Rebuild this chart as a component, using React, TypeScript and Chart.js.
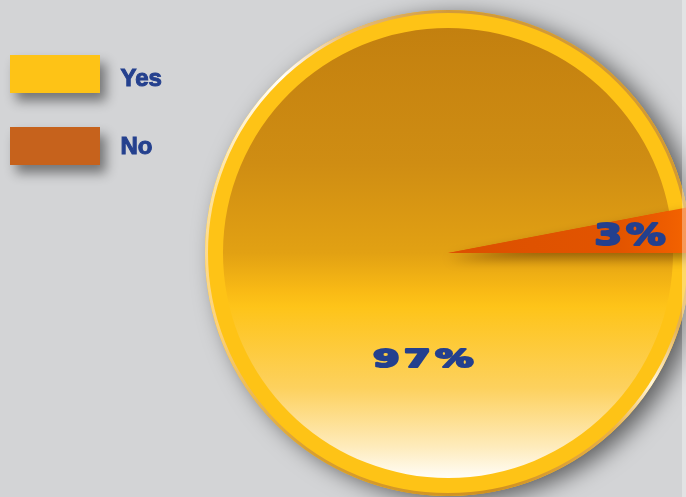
import React, { useEffect, useRef } from "react";
import { Chart, registerables } from "chart.js";

Chart.register(...registerables);

const categories = ["Yes", "No"];
const values = [97, 3];
const legendColors = ["#fec316", "#c6621c"];

const BG = "#d3d4d6";
const TEXT_BLUE = "#24408e";
const INNER_RATIO = 0.926;

function geom(chart: any) {
  const { chartArea } = chart;
  const cx = (chartArea.left + chartArea.right) / 2;
  const cy = (chartArea.top + chartArea.bottom) / 2;
  const R = Math.min(chartArea.right - chartArea.left, chartArea.bottom - chartArea.top) / 2;
  return { cx, cy, R };
}

function yesGradient(chart: any) {
  const { ctx } = chart;
  const { cy, R } = geom(chart);
  const r = R * INNER_RATIO;
  const g = ctx.createLinearGradient(0, cy - r, 0, cy + r);
  g.addColorStop(0, "#c3800f");
  g.addColorStop(0.3, "#cf8d13");
  g.addColorStop(0.5, "#e2a113");
  g.addColorStop(0.585, "#f9ba15");
  g.addColorStop(0.62, "#fec419");
  g.addColorStop(0.8, "#fdd15e");
  g.addColorStop(0.93, "#feebbb");
  g.addColorStop(1, "#fffdf7");
  return g;
}

function noGradient(chart: any) {
  const { ctx } = chart;
  const { cx, R } = geom(chart);
  const g = ctx.createLinearGradient(cx, 0, cx + R, 0);
  g.addColorStop(0, "#dc5000");
  g.addColorStop(0.7, "#e25400");
  g.addColorStop(0.9, "#ee5d00");
  g.addColorStop(1, "#f56500");
  return g;
}

const decorPlugin = {
  id: "decor",
  beforeDatasetsDraw(chart: any) {
    const { ctx } = chart;
    const { cx, cy, R } = geom(chart);
    ctx.save();
    ctx.shadowColor = "rgba(0,0,0,0.55)";
    ctx.shadowBlur = 22;
    ctx.shadowOffsetX = 10;
    ctx.shadowOffsetY = 5;
    ctx.beginPath();
    ctx.arc(cx, cy, R, 0, Math.PI * 2);
    ctx.fillStyle = "#fec316";
    ctx.fill();
    ctx.restore();
    ctx.save();
    const cg = (ctx as any).createConicGradient(0, cx, cy);
    cg.addColorStop(0, "#d39a30");
    cg.addColorStop(0.05, "#e3b155");
    cg.addColorStop(0.09, "#fff6dc");
    cg.addColorStop(0.13, "#e8b04a");
    cg.addColorStop(0.22, "#cf9020");
    cg.addColorStop(0.35, "#d9a030");
    cg.addColorStop(0.45, "#fcd27a");
    cg.addColorStop(0.55, "#fde3a0");
    cg.addColorStop(0.63, "#ffffff");
    cg.addColorStop(0.68, "#e7bf82");
    cg.addColorStop(0.75, "#d19a3a");
    cg.addColorStop(1, "#d39a30");
    ctx.beginPath();
    ctx.arc(cx, cy, R - 1.5, 0, Math.PI * 2);
    ctx.lineWidth = 3;
    ctx.strokeStyle = cg;
    ctx.stroke();
    ctx.restore();
  },
  afterDatasetsDraw(chart: any) {
    const { ctx } = chart;
    const { R } = geom(chart);
    const meta = chart.getDatasetMeta(0);
    const noArc = meta.data[1];
    const yesArc = meta.data[0];
    // small slice reaches the outer rim, drawn with a soft shadow
    const savedR = noArc.outerRadius;
    noArc.outerRadius = R;
    ctx.save();
    ctx.shadowColor = "rgba(90,45,0,0.55)";
    ctx.shadowBlur = 12;
    ctx.shadowOffsetX = 0;
    ctx.shadowOffsetY = 6;
    noArc.draw(ctx);
    ctx.restore();
    noArc.outerRadius = savedR;

    const cx = yesArc.x;
    const cy = yesArc.y;
    const r = yesArc.outerRadius;

    const drawWide = (text: string, x: number, baseline: number, size: number, targetW: number) => {
      ctx.save();
      ctx.font = `bold ${size}px "DejaVu Sans"`;
      (ctx as any).letterSpacing = "3px";
      const w = ctx.measureText(text).width;
      const sx = targetW / w;
      ctx.translate(x, baseline);
      ctx.scale(sx, 1);
      ctx.textAlign = "center";
      ctx.textBaseline = "alphabetic";
      ctx.fillStyle = TEXT_BLUE;
      ctx.strokeStyle = TEXT_BLUE;
      ctx.lineWidth = 2.2;
      ctx.lineJoin = "round";
      ctx.strokeText(text, 0, 0);
      ctx.fillText(text, 0, 0);
      ctx.restore();
    };
    drawWide(`${values[0]}%`, cx - 0.1 * r, cy + 0.507 * r, 25, 105);
    drawWide(`${values[1]}%`, cx + 0.818 * r, cy - 0.035 * r, 30, 75);
  },
  afterDraw(chart: any) {
    const { ctx } = chart;
    const tops = [55, 127];
    const baselines = [86, 154];
    categories.forEach((label, i) => {
      ctx.save();
      ctx.shadowColor = "rgba(0,0,0,0.45)";
      ctx.shadowBlur = 12;
      ctx.shadowOffsetX = 6;
      ctx.shadowOffsetY = 8;
      ctx.fillStyle = legendColors[i];
      ctx.fillRect(10, tops[i], 90, 38);
      ctx.restore();
      ctx.save();
      ctx.font = 'bold 24px "Liberation Sans"';
      ctx.fillStyle = TEXT_BLUE;
      ctx.strokeStyle = TEXT_BLUE;
      ctx.lineWidth = 1;
      ctx.textBaseline = "alphabetic";
      ctx.strokeText(label, 120.5, baselines[i]);
      ctx.fillText(label, 120.5, baselines[i]);
      ctx.restore();
    });
  },
};

export default function App() {
  const canvasRef = useRef<HTMLCanvasElement | null>(null);

  useEffect(() => {
    const canvas = canvasRef.current;
    if (!canvas) return;
    const chart = new Chart(canvas, {
      type: "pie",
      data: {
        labels: categories,
        datasets: [
          {
            data: values,
            backgroundColor: (c: any) => {
              const chart = c.chart;
              if (!chart.chartArea) return legendColors[c.dataIndex];
              return c.dataIndex === 0 ? yesGradient(chart) : noGradient(chart);
            },
            borderWidth: 0,
            hoverOffset: 0,
            offset: 0,
          },
        ],
      },
      options: {
        responsive: false,
        animation: false,
        rotation: 90,
        radius: `${INNER_RATIO * 100}%`,
        layout: { padding: { left: 205, top: 10, right: 9, bottom: 1 } },
        plugins: {
          legend: { display: false },
          tooltip: { enabled: false },
        },
      } as any,
      plugins: [decorPlugin],
    });
    return () => chart.destroy();
  }, []);

  return (
    <div
      style={{
        position: "absolute",
        left: 0,
        top: 0,
        width: 686,
        height: 497,
        overflow: "hidden",
        background: BG,
      }}
    >
      <canvas ref={canvasRef} width={700} height={497} style={{ display: "block" }} />
      <div
        style={{
          position: "absolute",
          left: 682,
          top: 0,
          width: 4,
          height: 497,
          background: "rgba(255,255,255,0.35)",
        }}
      />
    </div>
  );
}
